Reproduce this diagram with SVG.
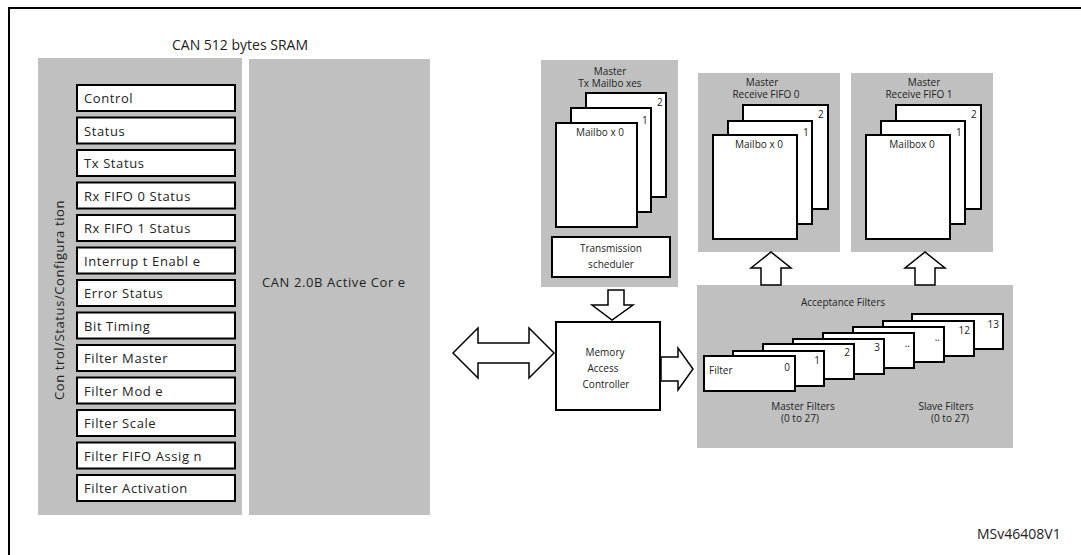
<svg xmlns="http://www.w3.org/2000/svg" width="1081" height="555" viewBox="0 0 1081 555">
<style>
text{font-family:"Open Sans","Liberation Sans",sans-serif;fill:#222}
.g{fill:#c0c0c0}
.w{fill:#fff;stroke:#000;stroke-width:2}
.r{font-size:13px;letter-spacing:0.6px}
.s{font-size:10px}
.a{fill:#fff;stroke:#000;stroke-width:1.5}
</style>
<rect x="0" y="0" width="1081" height="555" fill="#fff"/>
<path d="M9,555 V8 H1081" fill="none" stroke="#000" stroke-width="2"/>
<g id="sram">
<text x="240" y="50" font-size="14" text-anchor="middle">CAN 512 bytes SRAM</text>
<rect class="g" x="38" y="58" width="204" height="457"/>
<text transform="translate(64,400) rotate(-90)" font-size="13" letter-spacing="0.6">Con trol/Status/Configura tion</text>
<g class="r">
<rect class="w" x="77" y="85" width="158" height="26"/><text x="84" y="103">Control</text>
<rect class="w" x="77" y="117.5" width="158" height="26"/><text x="84" y="135.5">Status</text>
<rect class="w" x="77" y="150" width="158" height="26"/><text x="84" y="168">Tx Status</text>
<rect class="w" x="77" y="182.5" width="158" height="26"/><text x="84" y="200.5">Rx FIFO 0 Status</text>
<rect class="w" x="77" y="215" width="158" height="26"/><text x="84" y="233">Rx FIFO 1 Status</text>
<rect class="w" x="77" y="247.5" width="158" height="26"/><text x="84" y="265.5">Interrup t Enabl e</text>
<rect class="w" x="77" y="280" width="158" height="26"/><text x="84" y="298">Error Status</text>
<rect class="w" x="77" y="312.5" width="158" height="26"/><text x="84" y="330.5">Bit Timing</text>
<rect class="w" x="77" y="345" width="158" height="26"/><text x="84" y="363">Filter Master</text>
<rect class="w" x="77" y="377.5" width="158" height="26"/><text x="84" y="395.5">Filter Mod e</text>
<rect class="w" x="77" y="410" width="158" height="26"/><text x="84" y="428">Filter Scale</text>
<rect class="w" x="77" y="442.5" width="158" height="26"/><text x="84" y="460.5">Filter FIFO Assig n</text>
<rect class="w" x="77" y="475" width="158" height="26"/><text x="84" y="493">Filter Activation</text>
</g>
</g>
<g id="core">
<rect class="g" x="249" y="59" width="181" height="456"/>
<text x="262" y="287" font-size="13" letter-spacing="0.6">CAN 2.0B Active Cor e</text>
</g>
<g id="tx">
<rect class="g" x="541" y="60" width="137" height="227"/>
<text class="s" x="610" y="75" text-anchor="middle">Master</text>
<text class="s" x="610" y="87" text-anchor="middle">Tx Mailbo xes</text>
<rect class="w" x="586" y="93" width="80" height="104"/><text class="s" x="657" y="106">2</text>
<rect class="w" x="571" y="108" width="80" height="104"/><text class="s" x="642" y="124">1</text>
<rect class="w" x="556" y="123" width="81" height="104"/><text class="s" x="600" y="136" text-anchor="middle">Mailbo x 0</text>
<rect class="w" x="552" y="237" width="118" height="40" stroke-width="1.5"/>
<text class="s" x="611" y="252" text-anchor="middle">Transmission</text>
<text class="s" x="611" y="268" text-anchor="middle">scheduler</text>
</g>
<g id="rx0">
<rect class="g" x="698" y="73" width="142" height="179"/>
<text class="s" x="762" y="86" text-anchor="middle">Master</text>
<text class="s" x="766" y="98" text-anchor="middle">Receive FIFO 0</text>
<rect class="w" x="743" y="105" width="85" height="104"/><text class="s" x="818" y="118">2</text>
<rect class="w" x="728" y="121" width="84" height="103"/><text class="s" x="803" y="136">1</text>
<rect class="w" x="713" y="135" width="84" height="104"/><text class="s" x="759" y="148" text-anchor="middle">Mailbo x 0</text>
</g>
<g id="rx1">
<rect class="g" x="851" y="73" width="142" height="179"/>
<text class="s" x="924" y="86" text-anchor="middle">Master</text>
<text class="s" x="919" y="98" text-anchor="middle">Receive FIFO 1</text>
<rect class="w" x="896" y="105" width="85" height="104"/><text class="s" x="971" y="118">2</text>
<rect class="w" x="881" y="121" width="84" height="103"/><text class="s" x="956" y="136">1</text>
<rect class="w" x="866" y="135" width="84" height="104"/><text class="s" x="912" y="148" text-anchor="middle">Mailbox 0</text>
</g>
<g id="filters">
<rect class="g" x="697" y="285" width="316" height="163"/>
<text class="s" x="843" y="306" text-anchor="middle">Acceptance Filters</text>
<rect class="w" x="912" y="314" width="91" height="35"/><text class="s" x="999" y="328" text-anchor="end">13</text>
<rect class="w" x="883" y="321" width="91" height="35"/><text class="s" x="970" y="334" text-anchor="end">12</text>
<rect class="w" x="853" y="327" width="91" height="35"/><text class="s" x="940" y="341" text-anchor="end">..</text>
<rect class="w" x="823" y="333" width="91" height="35"/><text class="s" x="910" y="347" text-anchor="end">..</text>
<rect class="w" x="793" y="339" width="91" height="35"/><text class="s" x="880" y="351" text-anchor="end">3</text>
<rect class="w" x="763" y="344" width="91" height="35"/><text class="s" x="850" y="356" text-anchor="end">2</text>
<rect class="w" x="733" y="351" width="91" height="35"/><text class="s" x="820" y="364" text-anchor="end">1</text>
<rect class="w" x="704" y="356" width="91" height="35"/><text class="s" x="790" y="371" text-anchor="end">0</text>
<text class="s" x="709" y="374">Filter</text>
<text class="s" x="803" y="410" text-anchor="middle">Master Filters</text>
<text class="s" x="800" y="422" text-anchor="middle">(0 to 27)</text>
<text class="s" x="946" y="410" text-anchor="middle">Slave Filters</text>
<text class="s" x="950" y="422" text-anchor="middle">(0 to 27)</text>
</g>
<g id="mac">
<rect class="w" x="556" y="322" width="104" height="88"/>
<text class="s" x="605" y="356" text-anchor="middle">Memory</text>
<text class="s" x="603" y="372" text-anchor="middle">Access</text>
<text class="s" x="606" y="388" text-anchor="middle">Controller</text>
</g>
<g id="connectors">
<polygon class="a" points="453,353 478,328 478,343 529,343 529,328 554,353 529,378 529,363 478,363 478,378"/>
<polygon class="a" points="608,290 624,290 624,305 633,305 612,320 592,305 608,305"/>
<polygon class="a" points="661,357 678,357 678,348 693,369 678,390 678,381 661,381"/>
<polygon class="a" points="761,285 781,285 781,268 791,268 771,252 751,268 761,268"/>
<polygon class="a" points="915,285 935,285 935,268 945,268 925,252 905,268 915,268"/>
</g>
<text x="977" y="539" font-family="Liberation Sans,Arial,sans-serif" font-size="14">MSv46408V1</text>
</svg>
